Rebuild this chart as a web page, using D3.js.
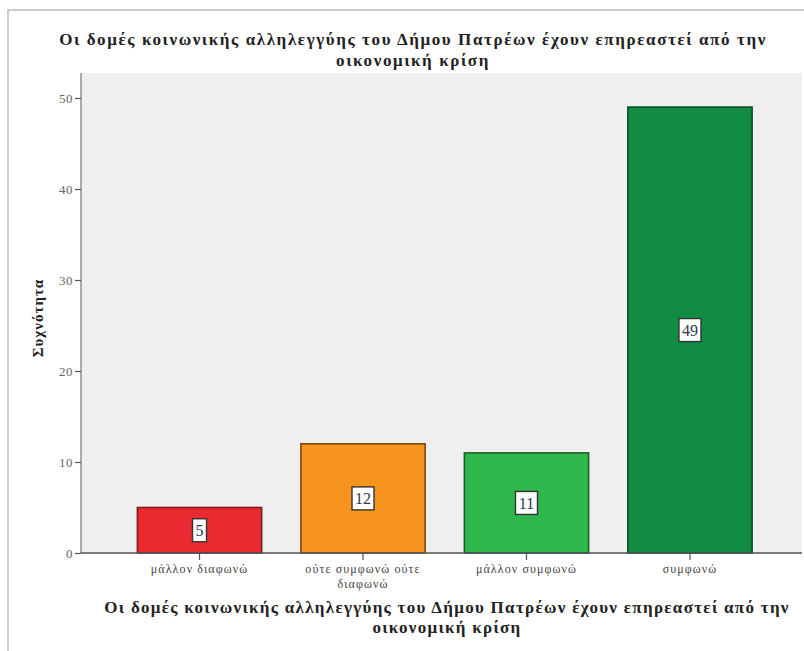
<!DOCTYPE html>
<html><head><meta charset="utf-8">
<script src="https://cdn.jsdelivr.net/npm/d3@7"></script>
<style>
html,body{margin:0;padding:0;background:#fff;}
svg{display:block;}
</style></head>
<body>
<script>
const categories = ["μάλλον διαφωνώ", "ούτε συμφωνώ ούτε διαφωνώ", "μάλλον συμφωνώ", "συμφωνώ"];
const categoryLines = [["μάλλον διαφωνώ"], ["ούτε συμφωνώ ούτε", "διαφωνώ"], ["μάλλον συμφωνώ"], ["συμφωνώ"]];
const values = [5, 12, 11, 49];
const barColors = ["#ea2a30", "#f7941d", "#2fb84b", "#118c44"];
const barStrokes = ["#7a1f1f", "#7a4a10", "#1d5e2a", "#0b4a25"];
const yTicks = [0, 10, 20, 30, 40, 50];
const titleLines = ["Οι δομές κοινωνικής αλληλεγγύης του Δήμου Πατρέων έχουν επηρεαστεί από την", "οικονομική κρίση"];
const yTitle = "Συχνότητα";

const W = 804, H = 651;
const svg = d3.select("body").append("svg").attr("width", W).attr("height", H);
const serif = "'Liberation Serif', 'DejaVu Serif', serif";

// outer frame
svg.append("rect").attr("x", 8).attr("y", 10).attr("width", W + 10).attr("height", H + 10)
  .attr("fill", "#fff").attr("stroke", "#bdbdbd").attr("stroke-width", 1.5);

const plot = {left: 81, top: 73, right: 808.5, bottom: 553};
const x = d3.scaleBand().domain(categories).range([plot.left, plot.right]).paddingInner(0.24).paddingOuter(0.345);
const y = d3.scaleLinear().domain([0, 50]).range([plot.bottom, plot.bottom - 50 * 9.1]);

// plot background
svg.append("rect").attr("x", plot.left).attr("y", plot.top)
  .attr("width", 802 - plot.left).attr("height", plot.bottom - plot.top).attr("fill", "#efefef");

// bars
svg.selectAll("rect.bar").data(values).join("rect").attr("class", "bar")
  .attr("x", (d, i) => x(categories[i]))
  .attr("y", d => y(d))
  .attr("width", x.bandwidth())
  .attr("height", d => y(0) - y(d))
  .attr("fill", (d, i) => barColors[i])
  .attr("stroke", (d, i) => barStrokes[i]).attr("stroke-width", 1.6);

// value labels
const lab = svg.selectAll("g.vlab").data(values).join("g").attr("class", "vlab")
  .attr("transform", (d, i) => `translate(${x(categories[i]) + x.bandwidth() / 2},${y(d / 2)})`);
lab.append("rect").attr("x", d => -(String(d).length * 8 + 6) / 2).attr("y", -11.5)
  .attr("width", d => String(d).length * 8 + 6).attr("height", 23)
  .attr("fill", "#fff").attr("stroke", "#333").attr("stroke-width", 1.4);
lab.append("text").attr("text-anchor", "middle").attr("dy", "0.36em")
  .attr("font-family", serif).attr("font-size", 16).attr("fill", "#2f3650")
  .text(d => d);

// y axis
const yAxis = svg.append("g").attr("transform", `translate(${plot.left},0)`)
  .call(d3.axisLeft(y).tickValues(yTicks).tickSize(6).tickPadding(2));
yAxis.select(".domain").attr("d", `M0,${plot.top}V${plot.bottom}`).attr("stroke", "#777").attr("stroke-width", 1.2);
yAxis.selectAll(".tick line").attr("stroke", "#555").attr("stroke-width", 1.2);
yAxis.selectAll(".tick text").attr("font-family", serif).attr("font-size", 13).attr("fill", "#666")
  .attr("letter-spacing", 0.5);

// x axis
const xAxis = svg.append("g").attr("transform", `translate(0,${plot.bottom})`)
  .call(d3.axisBottom(x).tickSize(7).tickFormat(""));
xAxis.select(".domain").attr("d", `M${plot.left},0H802`).attr("stroke", "#555").attr("stroke-width", 1.4);
xAxis.selectAll(".tick line").attr("stroke", "#555").attr("stroke-width", 1.2);
xAxis.selectAll(".tick").each(function(d, i) {
  const t = d3.select(this).append("text").attr("text-anchor", "middle")
    .attr("font-family", serif).attr("font-size", 12).attr("fill", "#444")
    .attr("letter-spacing", 1.1);
  categoryLines[i].forEach((ln, j) => {
    t.append("tspan").attr("x", 0).attr("y", 20 + j * 15).text(ln);
  });
});

// y title
svg.append("text").attr("transform", `translate(43,318) rotate(-90)`)
  .attr("text-anchor", "middle").attr("font-family", serif).attr("font-weight", "bold")
  .attr("font-size", 15).attr("fill", "#222").attr("letter-spacing", 1).text(yTitle);

// top title
const tt = svg.append("text").attr("text-anchor", "middle").attr("font-family", serif)
  .attr("font-weight", "bold").attr("font-size", 17).attr("fill", "#222").attr("letter-spacing", 1.6);
titleLines.forEach((ln, j) => tt.append("tspan").attr("x", 413).attr("y", 45 + j * 21).text(ln));

// x title
const xt = svg.append("text").attr("text-anchor", "middle").attr("font-family", serif)
  .attr("font-weight", "bold").attr("font-size", 17).attr("fill", "#222").attr("letter-spacing", 1.3);
titleLines.forEach((ln, j) => xt.append("tspan").attr("x", 447).attr("y", 613 + j * 20).text(ln));
</script>
</body></html>
